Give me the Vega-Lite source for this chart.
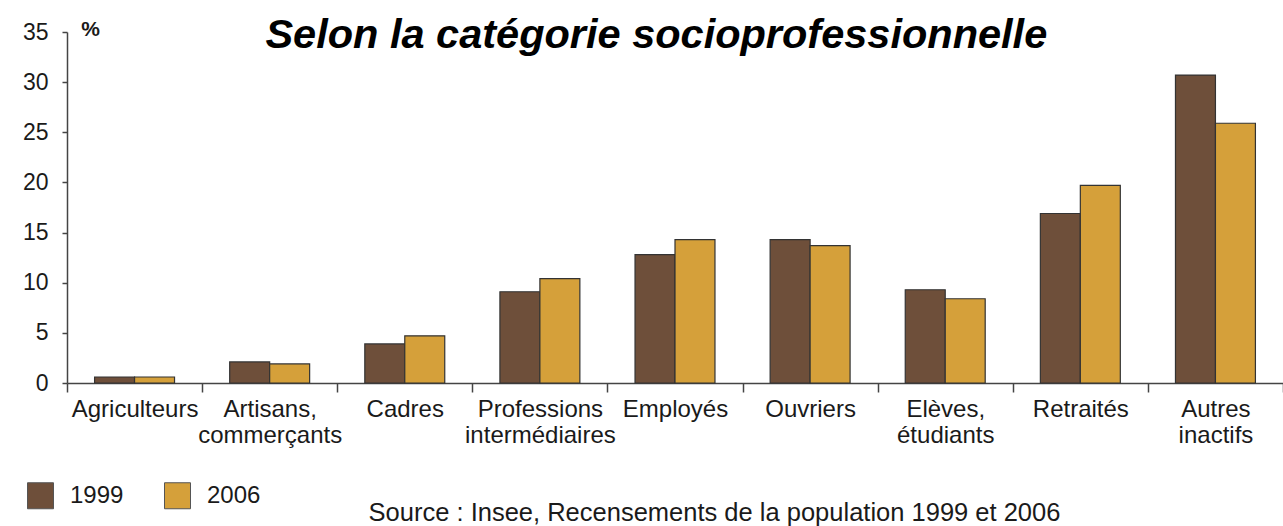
{
  "$schema": "https://vega.github.io/schema/vega-lite/v6.json",
  "width": 1216,
  "height": 351,
  "autosize": {"type": "none"},
  "padding": {"left": 67, "top": 32, "right": 0, "bottom": 143},
  "background": "white",
  "config": {
    "view": {"stroke": null},
    "font": "Liberation Sans",
    "axis": {"labelFont": "Liberation Sans", "titleFont": "Liberation Sans", "labelColor": "#1a1a1a", "titleColor": "#1a1a1a", "domainColor": "#444", "tickColor": "#444", "domainWidth": 1.5, "tickWidth": 1.5, "grid": false},
    "legend": {"labelFont": "Liberation Sans"}
  },
  "title": {
    "text": "Selon la catégorie socioprofessionnelle",
    "anchor": "start",
    "dx": 243,
    "dy": 71,
    "offset": 0,
    "fontSize": 41.5,
    "fontWeight": "bold",
    "fontStyle": "italic",
    "font": "Liberation Sans",
    "color": "black",
    "baseline": "alphabetic"
  },
  "data": {
    "values": [
      {"cat": "Agriculteurs", "year": "1999", "value": 0.6},
      {"cat": "Agriculteurs", "year": "2006", "value": 0.6},
      {"cat": "Artisans,|commerçants", "year": "1999", "value": 2.1},
      {"cat": "Artisans,|commerçants", "year": "2006", "value": 1.9},
      {"cat": "Cadres", "year": "1999", "value": 3.9},
      {"cat": "Cadres", "year": "2006", "value": 4.7},
      {"cat": "Professions|intermédiaires", "year": "1999", "value": 9.1},
      {"cat": "Professions|intermédiaires", "year": "2006", "value": 10.4},
      {"cat": "Employés", "year": "1999", "value": 12.8},
      {"cat": "Employés", "year": "2006", "value": 14.3},
      {"cat": "Ouvriers", "year": "1999", "value": 14.3},
      {"cat": "Ouvriers", "year": "2006", "value": 13.7},
      {"cat": "Elèves,|étudiants", "year": "1999", "value": 9.3},
      {"cat": "Elèves,|étudiants", "year": "2006", "value": 8.4},
      {"cat": "Retraités", "year": "1999", "value": 16.9},
      {"cat": "Retraités", "year": "2006", "value": 19.7},
      {"cat": "Autres|inactifs", "year": "1999", "value": 30.7},
      {"cat": "Autres|inactifs", "year": "2006", "value": 25.9}
    ]
  },
  "mark": {"type": "bar", "stroke": "#333", "strokeWidth": 1.2},
  "encoding": {
    "x": {
      "field": "cat",
      "type": "nominal",
      "sort": null,
      "scale": {"paddingInner": 0, "paddingOuter": 0},
      "axis": {
        "title": "Source : Insee, Recensements de la population 1999 et 2006",
        "titleFontSize": 25.5,
        "titleFontWeight": "normal",
        "titleAnchor": "start",
        "titleAlign": "center",
        "titleBaseline": "alphabetic",
        "titleX": 647,
        "titleY": 137,
        "labelAngle": 0,
        "labelFontSize": 24,
        "labelLineHeight": 26,
        "labelPadding": 5,
        "labelExpr": "split(datum.label, '|')",
        "tickBand": "extent",
        "tickSize": 9
      }
    },
    "xOffset": {
      "field": "year",
      "type": "nominal",
      "scale": {"paddingInner": 0, "paddingOuter": 0.69}
    },
    "y": {
      "field": "value",
      "type": "quantitative",
      "scale": {"domain": [0, 35], "nice": false},
      "axis": {
        "values": [0, 5, 10, 15, 20, 25, 30, 35],
        "title": "%",
        "titleAngle": 0,
        "titleFontSize": 21,
        "titleFontWeight": "bold",
        "titleAlign": "center",
        "titleBaseline": "alphabetic",
        "titleX": 23,
        "titleY": 3,
        "labelFontSize": 23,
        "labelPadding": 14,
        "tickSize": 5
      }
    },
    "color": {
      "field": "year",
      "type": "nominal",
      "scale": {"domain": ["1999", "2006"], "range": ["#6E4F3A", "#D5A03A"]},
      "legend": {
        "title": null,
        "orient": "none",
        "legendX": -40,
        "legendY": 450,
        "direction": "horizontal",
        "symbolType": "square",
        "symbolSize": 676,
        "symbolStrokeColor": "#555",
        "symbolStrokeWidth": 1,
        "labelFontSize": 24,
        "labelColor": "#1a1a1a",
        "labelOffset": 16,
        "columnPadding": 38
      }
    }
  }
}
